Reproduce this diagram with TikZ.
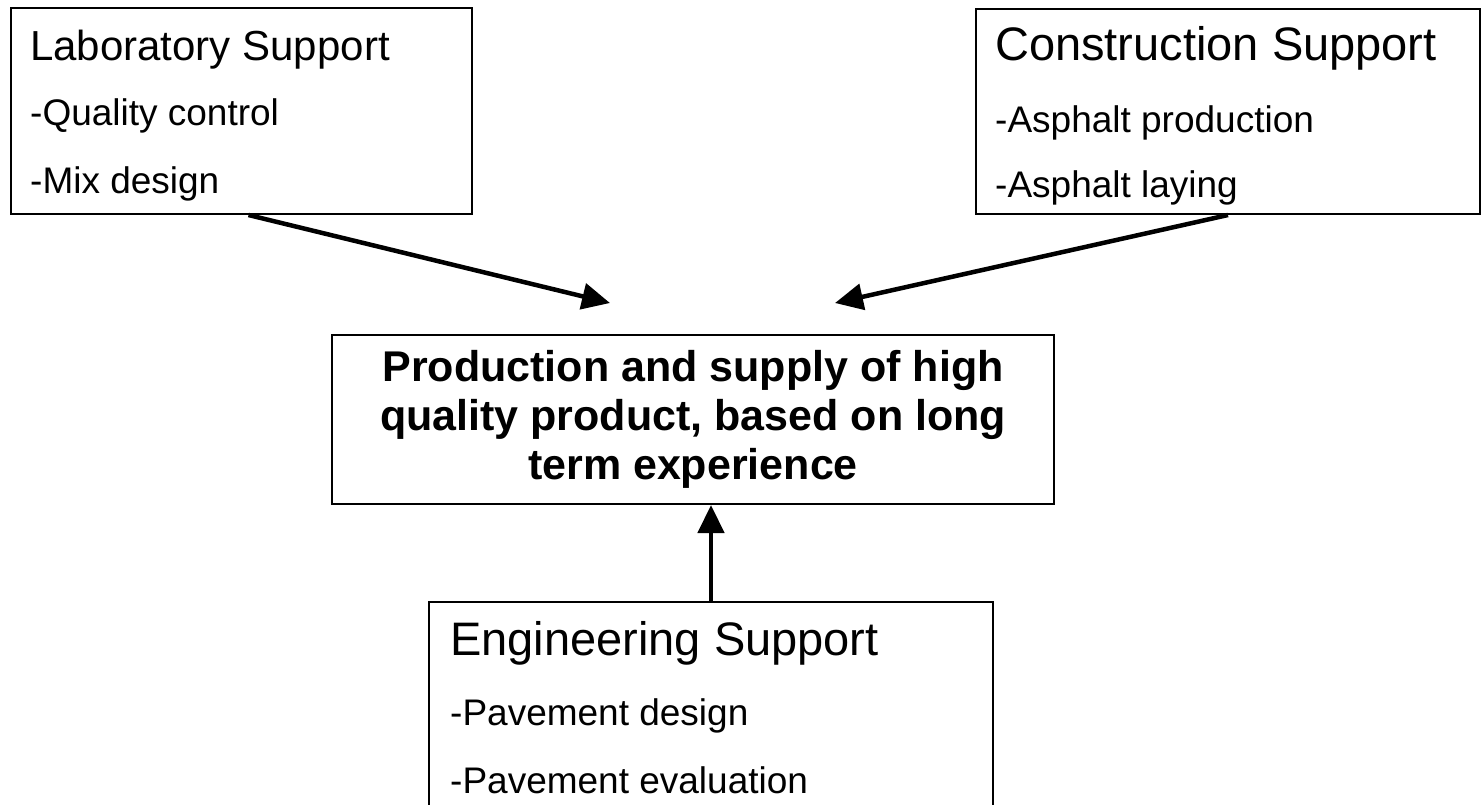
\documentclass[tikz,border=0pt]{standalone}
\usepackage{fontspec}
\setmainfont{Liberation Sans}
\usetikzlibrary{arrows.meta}
\begin{document}
\begin{tikzpicture}[x=1pt,y=-1pt,
  box/.style={draw,line width=2pt,inner sep=0pt,anchor=north west},
  head/.style={anchor=base west,inner sep=0pt,font=\fontsize{#1}{#1}\selectfont},
  item/.style={anchor=base west,inner sep=0pt,font=\fontsize{37}{37}\selectfont},
  link/.style={line width=4.5pt,-{Triangle[length=28pt,width=26pt]}}]
  \useasboundingbox (0,0) rectangle (1481,804);
  \clip (0,0) rectangle (1481,804);

  \node[box,minimum width=461pt,minimum height=206pt] (lab) at (10,7) {};
  \node[head=42] (labhead) at ([shift={(20,53)}]lab.north west) {Laboratory Support};
  \node[item] (labq) at ([shift={(20,118)}]lab.north west) {-Quality control};
  \node[item] (labm) at ([shift={(20,186)}]lab.north west) {-Mix design};

  \node[box,minimum width=504pt,minimum height=205pt] (con) at (975,8) {};
  \node[head=47] (conhead) at ([shift={(20,52)}]con.north west) {Construction Support};
  \node[item] (cona) at ([shift={(20,124)}]con.north west) {-Asphalt production};
  \node[item] (conb) at ([shift={(20,189)}]con.north west) {-Asphalt laying};

  \node[box,minimum width=722pt,minimum height=169pt,align=center,
    font=\bfseries\fontsize{43}{49}\selectfont] (goal) at (331,334)
    {Production and supply of high\\quality product, based on long\\term experience};

  \node[box,minimum width=564pt,minimum height=240pt] (eng) at (428,601) {};
  \node[head=47] (enghead) at ([shift={(22,54)}]eng.north west) {Engineering Support};
  \node[item] (engp) at ([shift={(22,124)}]eng.north west) {-Pavement design};
  \node[item] (enge) at ([shift={(22,192)}]eng.north west) {-Pavement evaluation};

  \coordinate (labtip) at (610,303);
  \coordinate (contip) at (835,303);
  \draw[link] ([xshift=7pt]lab.south) -- (labtip);
  \draw[link] (con.south) -- (contip);
  \draw[link] (eng.north) -- (eng.north |- goal.south);
\end{tikzpicture}
\end{document}
